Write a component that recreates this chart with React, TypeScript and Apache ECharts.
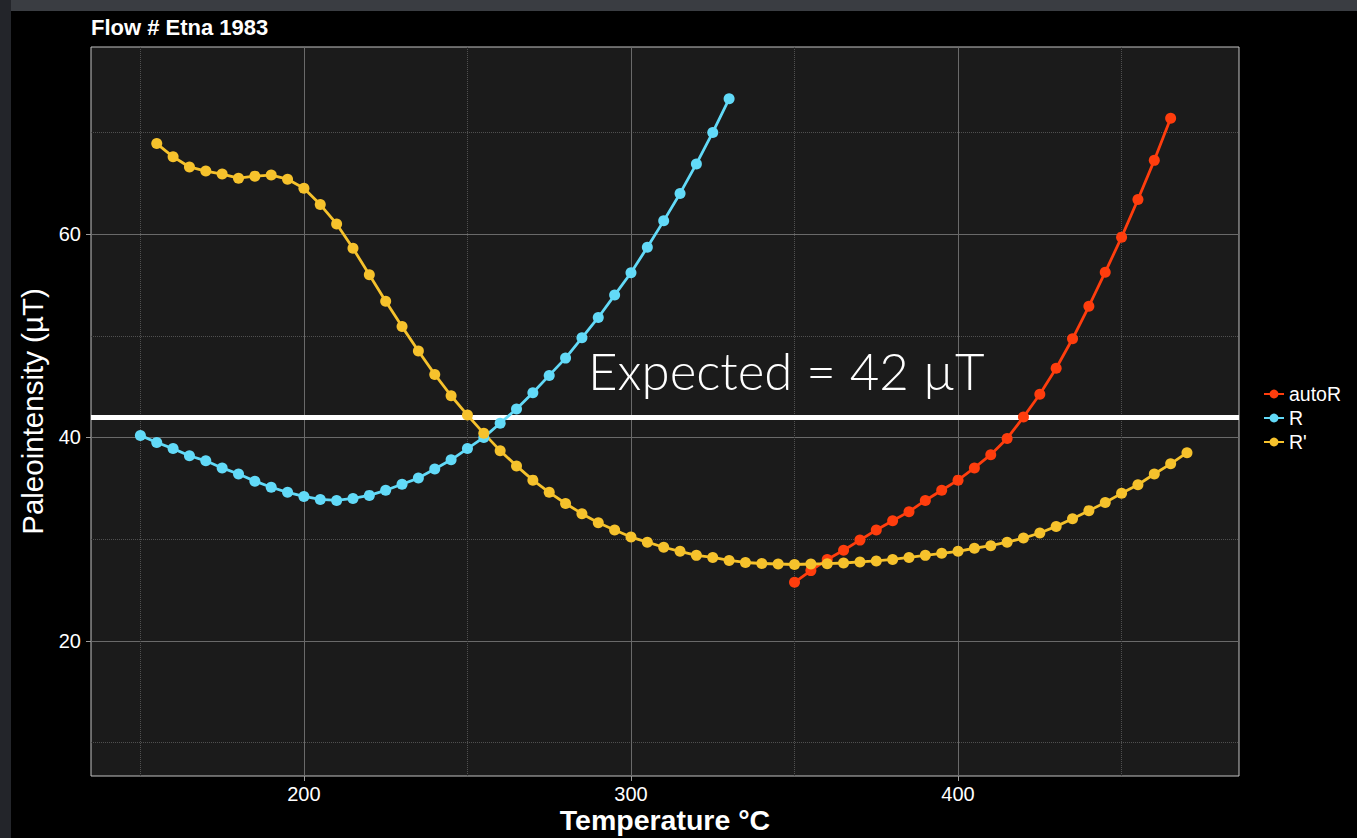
import React, { useEffect, useRef } from "react";
import * as echarts from "echarts";

const titleText = "Flow # Etna 1983";
const xTitle = "Temperature °C";
const yTitle = "Paleointensity (µT)";
const expectedLabel = "Expected = 42 µT";
const expectedValue = 42;
const xTickValues = [200, 300, 400];
const yTickValues = [20, 40, 60];

const rTemps = [150, 155, 160, 165, 170, 175, 180, 185, 190, 195, 200, 205, 210, 215, 220, 225, 230, 235, 240, 245, 250, 255, 260, 265, 270, 275, 280, 285, 290, 295, 300, 305, 310, 315, 320, 325, 330];
const rValues = [40.2, 39.5, 38.9, 38.2, 37.7, 37.0, 36.4, 35.7, 35.1, 34.6, 34.2, 33.9, 33.8, 34.0, 34.3, 34.8, 35.4, 36.0, 36.9, 37.8, 38.9, 40.0, 41.4, 42.8, 44.4, 46.1, 47.8, 49.8, 51.8, 54.0, 56.2, 58.7, 61.3, 64.0, 66.9, 70.0, 73.3];

const rpTemps = [155, 160, 165, 170, 175, 180, 185, 190, 195, 200, 205, 210, 215, 220, 225, 230, 235, 240, 245, 250, 255, 260, 265, 270, 275, 280, 285, 290, 295, 300, 305, 310, 315, 320, 325, 330, 335, 340, 345, 350, 355, 360, 365, 370, 375, 380, 385, 390, 395, 400, 405, 410, 415, 420, 425, 430, 435, 440, 445, 450, 455, 460, 465, 470];
const rpValues = [68.9, 67.6, 66.6, 66.2, 65.9, 65.5, 65.7, 65.8, 65.4, 64.5, 62.9, 61.0, 58.6, 56.0, 53.4, 50.9, 48.5, 46.2, 44.1, 42.2, 40.4, 38.7, 37.2, 35.8, 34.6, 33.5, 32.5, 31.6, 30.9, 30.2, 29.7, 29.2, 28.8, 28.4, 28.2, 27.9, 27.7, 27.6, 27.55, 27.5, 27.55, 27.58, 27.65, 27.75, 27.85, 28.0, 28.2, 28.4, 28.6, 28.8, 29.1, 29.35, 29.7, 30.1, 30.6, 31.25, 32.0, 32.8, 33.6, 34.5, 35.35, 36.4, 37.4, 38.5];

const autoTemps = [350, 355, 360, 365, 370, 375, 380, 385, 390, 395, 400, 405, 410, 415, 420, 425, 430, 435, 440, 445, 450, 455, 460, 465];
const autoValues = [25.75, 26.9, 28.0, 28.9, 29.9, 30.9, 31.8, 32.7, 33.8, 34.8, 35.8, 37.0, 38.3, 39.9, 42.0, 44.25, 46.8, 49.7, 52.9, 56.25, 59.7, 63.4, 67.25, 71.4];

const seriesNames = ["autoR", "R", "R'"];
const seriesColors = ["#FF3D0D", "#62DAF8", "#F6C22C"];

const FONT = "'Liberation Sans', Arial, Helvetica, sans-serif";

export default function App() {
  const ref = useRef<HTMLDivElement>(null);
  useEffect(() => {
    const chart = echarts.init(ref.current!, null, { renderer: "svg" });
    const zip = (t: number[], v: number[]) => t.map((x, i) => [x, v[i]]);
    const pointSeries = (name: string, color: string, data: number[][]) => ({
      name,
      type: "line",
      data,
      symbol: "circle",
      symbolSize: 11,
      showSymbol: true,
      color,
      lineStyle: { color, width: 2.8 },
      itemStyle: { color },
      emphasis: { disabled: true },
      z: 3,
    });
    chart.setOption({
      animation: false,
      backgroundColor: "#000000",
      graphic: [
        { type: "rect", shape: { x: 0, y: 0, width: 1357, height: 11 }, style: { fill: "#3a3d42" }, z: 0 },
        { type: "rect", shape: { x: 0, y: 0, width: 11, height: 838 }, style: { fill: "#23252a" }, z: 0 },
        {
          type: "text",
          x: 665,
          y: 820,
          z: 10,
          style: {
            text: xTitle,
            fill: "#ffffff",
            align: "center",
            verticalAlign: "middle",
            fontSize: 28.5,
            lineHeight: 28,
            fontWeight: "bold",
            fontFamily: FONT,
          },
        },
      ],
      title: {
        text: titleText,
        left: 91,
        top: 16,
        padding: 0,
        textStyle: { color: "#ffffff", fontSize: 22, fontWeight: "bold", fontFamily: FONT },
      },
      tooltip: { show: false },
      legend: {
        data: seriesNames,
        orient: "vertical",
        left: 1263,
        top: 384,
        itemWidth: 20,
        itemHeight: 11,
        itemGap: 4,
        padding: 0,
        selectedMode: false,
        textStyle: { color: "#ffffff", fontSize: 19.5, lineHeight: 19, fontFamily: FONT },
      },
      grid: {
        left: 91,
        right: 118,
        top: 47,
        bottom: 62,
        outerBoundsMode: "none",
        containLabel: false,
        show: true,
        backgroundColor: "#1b1b1b",
        borderColor: "#c4c4c4",
        borderWidth: 1,
      },
      xAxis: {
        type: "value",
        min: 134.9,
        max: 485.9,
        splitNumber: 4,
        minInterval: 100,
        maxInterval: 100,
        axisLine: { show: false },
        axisTick: { show: true, length: 5, customValues: xTickValues, lineStyle: { color: "#9a9a9a" } },
        axisLabel: {
          color: "#ffffff",
          fontSize: 20,
          lineHeight: 20,
          margin: 8,
          fontFamily: FONT,
          customValues: xTickValues,
        },
        splitLine: { show: true, lineStyle: { color: "#6a6a6a", width: 1 } },
        minorTick: { show: false, splitNumber: 2 },
        minorSplitLine: { show: true, lineStyle: { color: "#505050", width: 1, type: "dotted" } },
      },
      yAxis: {
        type: "value",
        min: 6.7,
        max: 78.4,
        splitNumber: 3,
        minInterval: 20,
        maxInterval: 20,
        axisLine: { show: false },
        axisTick: { show: true, length: 5, customValues: yTickValues, lineStyle: { color: "#9a9a9a" } },
        axisLabel: {
          color: "#ffffff",
          fontSize: 20,
          margin: 10,
          fontFamily: FONT,
          customValues: yTickValues,
        },
        splitLine: { show: true, lineStyle: { color: "#6a6a6a", width: 1 } },
        minorTick: { show: false, splitNumber: 2 },
        minorSplitLine: { show: true, lineStyle: { color: "#505050", width: 1, type: "dotted" } },
        name: yTitle,
        nameLocation: "middle",
        nameGap: 43,
        nameRotate: 90,
        nameTextStyle: { color: "#ffffff", fontSize: 29.5, fontFamily: FONT },
      },
      series: [
        {
          name: "expected",
          type: "line",
          data: [],
          silent: true,
          markLine: {
            z: 1,
            silent: true,
            symbol: "none",
            label: { show: false },
            lineStyle: { color: "#ffffff", width: 5, type: "solid" },
            emphasis: { disabled: true },
            data: [{ yAxis: expectedValue }],
          },
          markPoint: {
            silent: true,
            symbol: "circle",
            symbolSize: 1,
            itemStyle: { color: "rgba(0,0,0,0)" },
            label: {
              show: true,
              position: "inside",
              formatter: expectedLabel,
              color: "#ffffff",
              fontSize: 51,
              fontFamily: "Lato, 'Open Sans', sans-serif",
              fontWeight: 300,
            },
            data: [{ coord: [347.5, 46.6] }],
          },
        },
        pointSeries(seriesNames[0], seriesColors[0], zip(autoTemps, autoValues)),
        pointSeries(seriesNames[1], seriesColors[1], zip(rTemps, rValues)),
        pointSeries(seriesNames[2], seriesColors[2], zip(rpTemps, rpValues)),
      ],
    });
    return () => chart.dispose();
  }, []);
  return <div ref={ref} style={{ position: "absolute", left: 0, top: 0, width: 1357, height: 838 }} />;
}
